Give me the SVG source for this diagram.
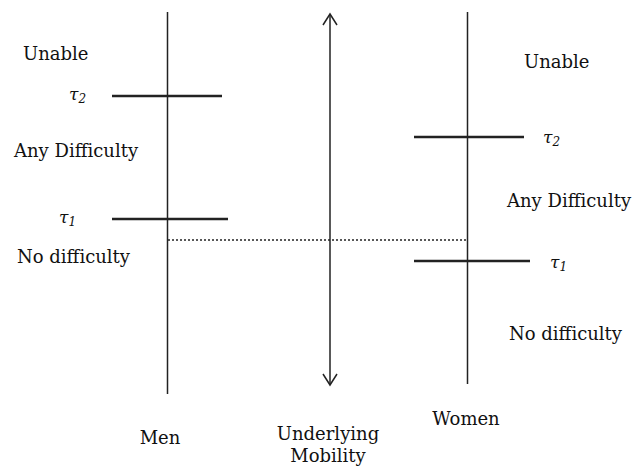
<svg xmlns="http://www.w3.org/2000/svg" width="633" height="466" viewBox="0 0 633 466">
<style>
.t{font-family:'DejaVu Serif',serif;font-size:18px;fill:#111}
.tau{font-family:'DejaVu Serif',serif;font-style:italic;font-size:17px;fill:#111}
.sub{font-size:12px}
.ax{stroke:#222;stroke-width:1.5;fill:none}
.bar{stroke:#222;stroke-width:2.6;fill:none}
.dot{stroke:#222;stroke-width:1.6;stroke-dasharray:2 2;fill:none}
</style>
<rect width="633" height="466" fill="#fff"/>
<g id="men">
<line class="ax" x1="167.5" y1="12" x2="167.5" y2="394"/>
<line class="bar" x1="112" y1="96" x2="222" y2="96"/>
<line class="bar" x1="112" y1="219" x2="228" y2="219"/>
<text class="t" x="23" y="60">Unable</text>
<text class="tau" x="69" y="100">τ<tspan class="sub" dy="3">2</tspan></text>
<text class="t" x="14" y="157">Any Difficulty</text>
<text class="tau" x="59" y="223">τ<tspan class="sub" dy="3">1</tspan></text>
<text class="t" x="17" y="263">No difficulty</text>
<text class="t" x="160" y="444" text-anchor="middle">Men</text>
</g>
<g id="mobility">
<line class="ax" x1="330" y1="14" x2="330" y2="385"/>
<polyline class="ax" points="323,25 330,14 337,25"/>
<polyline class="ax" points="323,374 330,385 337,374"/>
<text class="t" x="328" y="440" text-anchor="middle">Underlying</text>
<text class="t" x="328" y="462" text-anchor="middle">Mobility</text>
</g>
<g id="women">
<line class="ax" x1="467.5" y1="12" x2="467.5" y2="384"/>
<line class="bar" x1="414" y1="137" x2="524" y2="137"/>
<line class="bar" x1="414" y1="261" x2="530" y2="261"/>
<text class="t" x="524" y="68">Unable</text>
<text class="tau" x="543" y="143">τ<tspan class="sub" dy="3">2</tspan></text>
<text class="t" x="507" y="207">Any Difficulty</text>
<text class="tau" x="550" y="268">τ<tspan class="sub" dy="3">1</tspan></text>
<text class="t" x="509" y="340">No difficulty</text>
<text class="t" x="466" y="425" text-anchor="middle">Women</text>
</g>
<g id="connectors">
<line class="dot" x1="168" y1="240" x2="467" y2="240"/>
</g>
</svg>
